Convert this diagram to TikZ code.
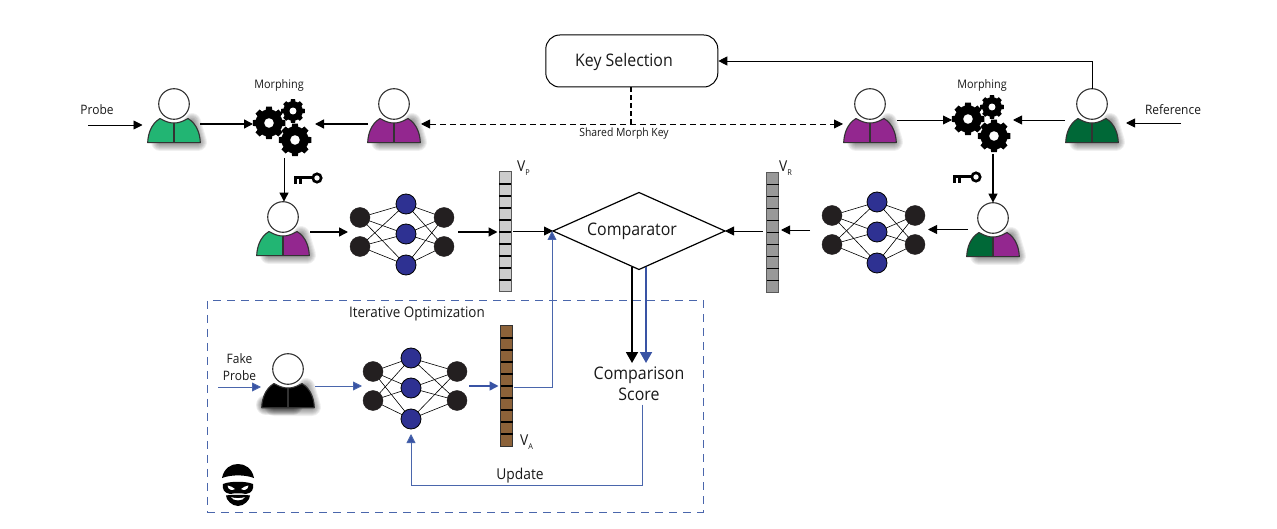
\documentclass[tikz,border=0pt]{standalone}
\usepackage{fontspec}
\setmainfont{Open Sans}[FakeStretch=0.92]
\usetikzlibrary{arrows.meta,shapes.geometric,calc}
\definecolor{pgreen}{HTML}{22B573}
\definecolor{dgreen}{HTML}{006837}
\definecolor{ppurple}{HTML}{93278F}
\definecolor{nblue}{HTML}{2E3192}
\definecolor{ndark}{HTML}{231F20}
\definecolor{bblue}{HTML}{3953A4}
\definecolor{tblue}{HTML}{4A66AC}
\definecolor{brownv}{HTML}{8C6239}
\definecolor{edge}{HTML}{333333}
\tikzset{
  personbox/.style={minimum width=54pt,minimum height=54pt,inner sep=0pt,outer sep=0pt},
  groupbox/.style={minimum width=58pt,minimum height=68pt,inner sep=0pt,outer sep=0pt},
  netdark/.style={circle,fill=ndark,draw=ndark,minimum size=20pt,inner sep=0pt,outer sep=0pt},
  netblue/.style={circle,fill=nblue,draw=black,line width=.8pt,minimum size=20pt,inner sep=0pt,outer sep=0pt},
  netedge/.style={draw=black,line width=.6pt},
  vecbar/.style={draw=#1,minimum width=12pt,minimum height=120pt,inner sep=0pt,outer sep=0pt,line width=1pt},
  sep/.style={draw=black,line width=1.2pt},
  arr/.style={draw=black,line width=.9pt,-{Triangle[length=9pt,width=9pt]}},
  arrb/.style={draw=black,line width=1.4pt,-{Triangle[length=9pt,width=9pt]}},
  arrbig/.style={draw=black,line width=1.8pt,-{Triangle[length=11pt,width=12pt]}},
  bluearr/.style={draw=tblue,line width=.9pt,-{Triangle[length=9pt,width=9pt,fill=bblue]}},
  bluebig/.style={draw=bblue,line width=1.8pt,-{Triangle[length=11pt,width=12pt]}},
  bluemid/.style={draw=bblue,line width=1.5pt,-{Triangle[length=9pt,width=9pt]}},
  dasharr/.style={draw=black,line width=.9pt,dash pattern=on 6pt off 4pt,{Triangle[length=9pt,width=9pt]}-{Triangle[length=9pt,width=9pt]}},
  lab/.style={inner sep=0pt,text=black!90,align=center},
}
\newcommand{\bodypath}{(-26.3,38.7) .. controls (-26,30) and (-23,20) .. (-14,14.5) .. controls (-8,18) and (-4,19) .. (0,19) .. controls (4,19) and (8,18) .. (14,14.5) .. controls (23,20) and (26,30) .. (26.3,38.7) -- cycle}
% name, cx, head y, left colour, right colour
\newcommand{\personicon}[5]{
  \begin{scope}[shift={(#2,#3)}]
    \foreach \w in {2,4,...,18}{
      \draw[black,opacity=.06,line width=\w pt,line cap=round,line join=round] (-14,38) -- (24,38) -- (18,18);
    }
    \fill[#4] (-26.3,38.7) .. controls (-26,30) and (-23,20) .. (-14,14.5) .. controls (-8,18) and (-4,19) .. (0,19) -- (0,38.7) -- cycle;
    \fill[#5] (26.3,38.7) .. controls (26,30) and (23,20) .. (14,14.5) .. controls (8,18) and (4,19) .. (0,19) -- (0,38.7) -- cycle;
    \draw[edge,line width=1.1pt,line join=round] \bodypath;
    \draw[edge,line width=1.1pt] (0,19) -- (0,38.7);
    \fill[white] (0,0) circle[radius=17.5] ;
    \draw[edge,fill=white,line width=1.1pt] (0,0) circle[radius=15.3];
  \end{scope}
  \node[personbox] (#1) at ({#2},{#3+11.6}) {};
}
\newcommand{\gearicon}[3]{
  \begin{scope}[shift={(#1,#2)}]
    \fill[black] (0,0) circle[radius={#3*.82}];
    \foreach \a in {0,45,...,315}{
      \fill[black] (\a-16:{#3*.75}) -- (\a-10:#3) -- (\a+10:#3) -- (\a+16:{#3*.75}) -- cycle;
    }
    \fill[white] (0,0) circle[radius={#3*.29}];
  \end{scope}
}
% name, cx, cy
\newcommand{\gearsgroup}[3]{
  \gearicon{#2-14}{#3-1}{16.5}
  \gearicon{#2+10}{#3-13}{12}
  \gearicon{#2+12}{#3+16}{16.5}
  \node[groupbox] (#1) at ({#2-1},{#3}) {};
}
\newcommand{\keyicon}[2]{
  \begin{scope}[shift={(#1,#2)}]
    \draw[black,line width=3pt] (-23,0) -- (-4,0);
    \fill[black] (-23.5,0) rectangle (-20.5,6);
    \fill[black] (-18.5,0) rectangle (-15.5,6);
    \draw[black,line width=2.6pt,fill=white] (0,0) circle[radius=4.2];
  \end{scope}
}
% name, x of blue, y of mid blue, dx left, dx right
\newcommand{\nnet}[5]{
  \node[netdark] (#1-a) at ({#2-#4},{#3-16.5}) {};
  \node[netdark] (#1-b) at ({#2-#4},{#3+12.5}) {};
  \node[netblue] (#1-c) at ({#2},{#3-30}) {};
  \node[netblue] (#1-d) at ({#2},{#3}) {};
  \node[netblue] (#1-e) at ({#2},{#3+31}) {};
  \node[netdark] (#1-f) at ({#2+#5},{#3-16.5}) {};
  \node[netdark] (#1-g) at ({#2+#5},{#3+12.5}) {};
  \foreach \l in {a,b}{\foreach \m in {c,d,e}{\draw[netedge] (#1-\l) -- (#1-\m);}}
  \foreach \r in {f,g}{\foreach \m in {c,d,e}{\draw[netedge] (#1-\m) -- (#1-\r);}}
  \coordinate (#1-in) at ($(#1-a.west)!.5!(#1-b.west)$);
  \coordinate (#1-out) at ($(#1-f.east)!.5!(#1-g.east)$);
}
% name, x centre, y centre, fill, border
\newcommand{\vecnode}[5]{
  \node[vecbar=#5,fill=#4] (#1) at (#2,#3) {};
  \foreach \k in {1,...,9}{
    \draw[sep] ({#2-6},{#3-60+12*\k}) -- ({#2+6},{#3-60+12*\k});
  }
}
\newcommand{\vlabel}[1]{V\raisebox{-4pt}{\fontsize{8}{9}\selectfont #1}}
\begin{document}
\begin{tikzpicture}[x=1pt,y=-1pt,font=\fontsize{13}{15}\selectfont]
\useasboundingbox (0,0) rectangle (1277,529);
\fill[white] (0,0) rectangle (1277,529);

% dashed attack box
\node[draw=tblue,line width=.9pt,dash pattern=on 8pt off 6pt,minimum width=496pt,minimum height=211.5pt,inner sep=0pt] (attack) at (455,406.2) {};

% stronger shadow of the fake person
\foreach \w in {2,4,...,20}{
  \draw[black,opacity=.08,line width=\w pt,line cap=round] (266,405) -- (293,405);
}
% people
\personicon{p1}{174}{104}{pgreen}{pgreen}
\personicon{p2}{394}{104}{ppurple}{ppurple}
\personicon{p3}{870}{104}{ppurple}{ppurple}
\personicon{p4}{1092}{104}{dgreen}{dgreen}
\personicon{m1}{283}{217}{pgreen}{ppurple}
\personicon{m2}{993}{218}{dgreen}{ppurple}
\personicon{fake}{288}{369}{black}{black}

% gears
\gearsgroup{g1}{283}{124}
\gearsgroup{g2}{982}{120}
\node[lab,font=\fontsize{11.8}{13}\selectfont] (lm1) at (279,85) {Morphing};
\node[lab,font=\fontsize{11.8}{13}\selectfont] (lm2) at (982,85) {Morphing};
\keyicon{317}{178}
\keyicon{976}{177}

% nets
\nnet{n1}{406}{234}{46}{38}
\nnet{n2}{877}{232}{45}{38}
\nnet{n3}{411}{388}{38}{46}

% vectors
\vecnode{vp}{505}{232}{black!20}{black!65}
\vecnode{vr}{772.5}{232.5}{black!40}{black!65}
\vecnode{va}{506.5}{386}{brownv}{black!80}
\node[lab,font=\fontsize{15}{17}\selectfont,anchor=base west] (vpl) at (517,172) {\vlabel{P}};
\node[lab,font=\fontsize{15}{17}\selectfont,anchor=base west] (vrl) at (779,172) {\vlabel{R}};
\node[lab,font=\fontsize{15}{17}\selectfont,anchor=base west] (val) at (520,445) {\vlabel{A}};

% key selection, comparator, score
\node[draw=black,line width=1pt,rounded corners=14pt,minimum width=172pt,minimum height=52pt,inner sep=0pt] (key) at (631.8,61) {};
\node[lab,font=\fontsize{17.3}{19}\selectfont] (keyt) at (624,62.5) {Key Selection};
\node[diamond,draw=black,line width=1.2pt,aspect=2.2,minimum width=172pt,minimum height=77pt,inner sep=0pt,outer sep=0pt] (cmp) at (639,231) {};
\node[lab,font=\fontsize{17.3}{19}\selectfont] (cmpt) at (632,231.5) {Comparator};
\node[lab,font=\fontsize{17.3}{21}\selectfont,minimum height=42pt] (score) at (639,383.5) {Comparison\\Score};

% labels
\node[lab] (probe) at (97,110) {Probe};
\node[lab] (refl) at (1173,109.5) {Reference};
\node[lab,font=\fontsize{11.3}{13}\selectfont] (smk) at (624,134) {Shared Morph Key};
\node[lab,font=\fontsize{14.6}{16}\selectfont] (iter) at (417,314) {Iterative Optimization};
\node[lab,font=\fontsize{13}{17}\selectfont] (fp) at (239.5,367.5) {Fake\\Probe};
\node[lab,font=\fontsize{15}{17}\selectfont] (upd) at (520,476) {Update};

% free ends
\coordinate (probein) at (88,125);
\coordinate (refin) at (1181,123);
\coordinate (fakein) at (218,387);
\coordinate (vaout) at (514,387);
\coordinate (corner) at (552,387);
\coordinate (dashend) at (631,124);
\coordinate (scoreout) at (642,485);
\coordinate (downl) at (284,201);
\coordinate (downk) at (632,363);
\coordinate (downb) at (646,363);

% connectors: top row
\draw[arr,shorten >=4.5pt] (probein) -- (probein -| p1.west);
\draw[arrb] (p1.east |- g1.west) ++(-1,0) -- (g1.west);
\draw[arrb] (p2.west |- g1.east) ++(1,0) -- ([xshift=4pt]g1.east);
\draw[dasharr] (p2.east |- dashend) -- (p3.west |- dashend);
\draw[arr] (p3.east |- g2.west) -- (g2.west);
\draw[arr] (p4.west |- g2.east) -- ([xshift=3pt]g2.east);
\draw[arr] (refin) -- ([xshift=7pt]refin -| p4.east);
\draw[arr] (p4.north) |- (key.east);
\draw[black,line width=1.8pt,dash pattern=on 5pt off 3pt] (dashend |- key.south) -- (dashend);

% connectors: down to morphed faces
\draw[arr] (g1.south -| downl) -- (m1.north -| downl);
\draw[arrb] (g2.south -| m2.north) -- (m2.north);

% connectors: middle row
\draw[arrb,shorten >=2pt] (m1.east |- n1-in) -- (n1-in);
\draw[arrb] (n1-out) ++(4,0) -- ($(n1-out -| vp.west)+(-1.5,0)$);
\draw[arr] (vp.east |- cmp.west) ++(2,0) -- (cmp.west);
\draw[arr] (m2.west |- n2-out) ++(2,-0.5) -- ($(n2-out)+(3,-.5)$);
\draw[arr] ($(n2-in)+(-12,0)$) -- ($(vr.east |- n2-in)+(2.5,0)$);
\draw[arr] (vr.west |- cmp.east) ++(-4,0) -- (cmp.east);
\draw[arrbig] (cmp.south -| downk) ++(0,-2) -- (downk);
\draw[bluebig] (cmp.south -| downb) ++(0,-2) -- (downb);

% connectors: attack
\draw[bluearr] (fakein) -- (fake.west |- fakein);
\draw[bluearr] (fake.east |- n3-in) -- ($(n3-in)+(-1,0)$);
\draw[bluemid] (n3-out) ++(2,0) -- ($(n3-out -| va.west)+(-2,0)$);
\draw[bluearr] (vaout) -- (corner) -- (corner |- cmp.west);
\draw[bluearr,shorten >=5pt] (scoreout |- score.south) -- (scoreout) -| (n3-e.south);

% thief icon
\begin{scope}
  \fill[black] (222,478) .. controls (224,468) and (231,464) .. (238,464) .. controls (245,464) and (252,468) .. (254,478) .. controls (245,474.5) and (231,474.5) .. (222,478) -- cycle;
  \fill[black] (223,484) .. controls (230,481) and (246,481) .. (253,484) .. controls (254,489) and (252,493) .. (246,494) .. controls (241,493) and (235,493) .. (230,494) .. controls (224,493) and (222,489) .. (223,484) -- cycle;
  \fill[white] (227.5,485.5) .. controls (230,486) and (233,487) .. (235,489) .. controls (232,491) and (228,490) .. (227.5,485.5) -- cycle;
  \fill[white] (248.5,485.5) .. controls (246,486) and (243,487) .. (241,489) .. controls (244,491) and (248,490) .. (248.5,485.5) -- cycle;
  \fill[black] (226,495.5) .. controls (232,494.5) and (244,494.5) .. (250,495.5) .. controls (250,500) and (244,506) .. (238,506) .. controls (232,506) and (226,500) .. (226,495.5) -- cycle;
  \fill[white] (231,497) .. controls (235,498.5) and (241,498.5) .. (245,497) .. controls (243,501.5) and (233,501.5) .. (231,497) -- cycle;
\end{scope}
\end{tikzpicture}
\end{document}
